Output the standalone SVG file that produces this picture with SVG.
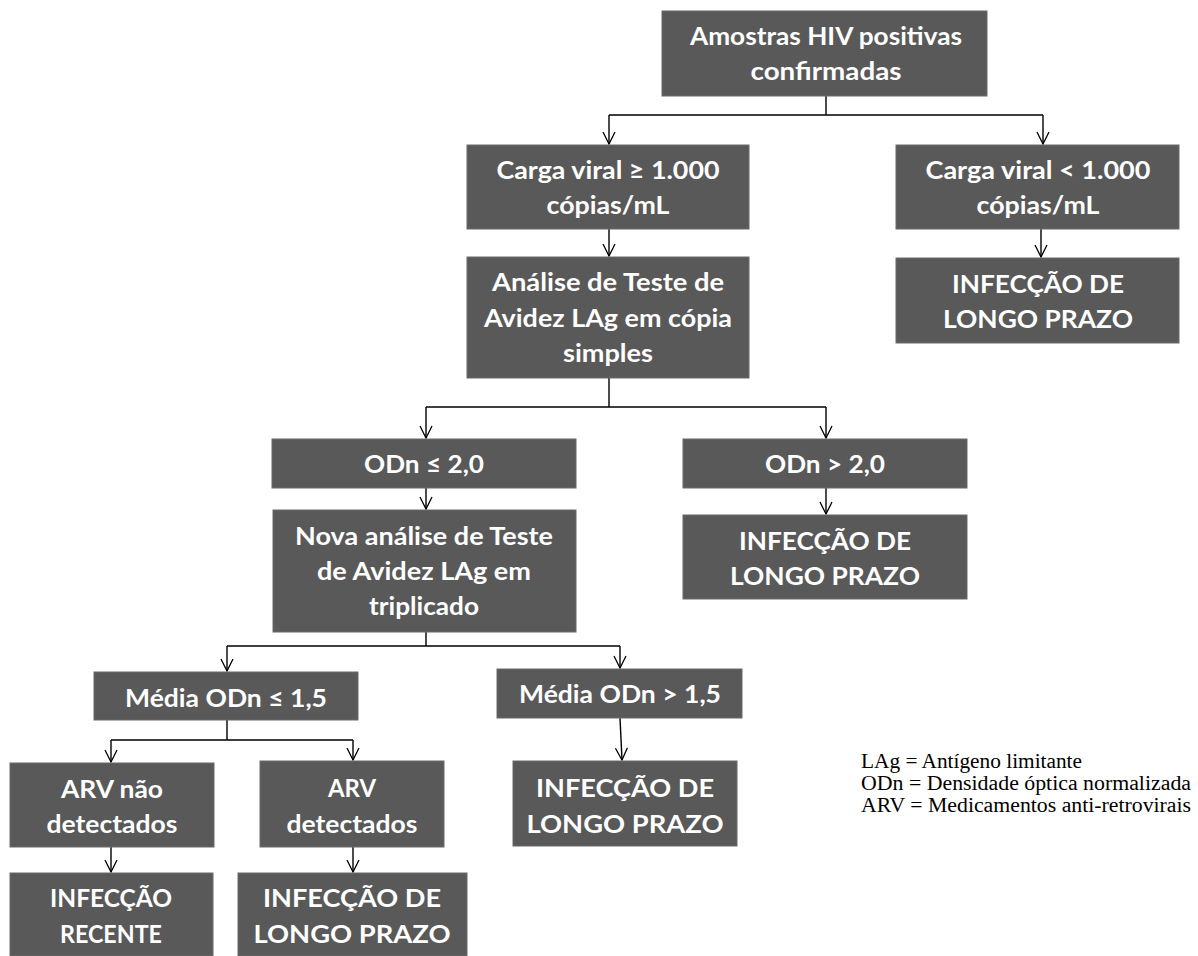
<svg xmlns="http://www.w3.org/2000/svg" width="1198" height="956" viewBox="0 0 1198 956">
<defs>
<style>
.box{fill:#595959;stroke:#6b6b6b;stroke-width:1}
.t{font-family:Lato,"Open Sans","Liberation Sans",sans-serif;font-weight:700;font-size:24px;fill:#ffffff;text-anchor:middle}
.c{fill:none;stroke:#000;stroke-width:1.4}
.lg{font-family:"Liberation Serif","Times New Roman",serif;font-size:20px;fill:#000}
</style>
<marker id="ah" viewBox="-13 -7 14 14" markerWidth="14" markerHeight="14" refX="0" refY="0" orient="auto" markerUnits="userSpaceOnUse">
<path d="M-12,-6 L0,0 L-12,6" fill="none" stroke="#000" stroke-width="1.3"/>
</marker>
</defs>
<rect width="1198" height="956" fill="#fff"/>

<g id="connectors">
<path class="c" d="M826,96 V115 M609,115 H1043"/>
<path class="c" d="M609,115 V144" marker-end="url(#ah)"/>
<path class="c" d="M1043,115 V144" marker-end="url(#ah)"/>
<path class="c" d="M609,229 V256" marker-end="url(#ah)"/>
<path class="c" d="M1041,229 V257" marker-end="url(#ah)"/>
<path class="c" d="M609,378 V407 M426,407 H826"/>
<path class="c" d="M426,407 V438" marker-end="url(#ah)"/>
<path class="c" d="M826,407 V438" marker-end="url(#ah)"/>
<path class="c" d="M426,488 V509" marker-end="url(#ah)"/>
<path class="c" d="M826,488 V514" marker-end="url(#ah)"/>
<path class="c" d="M426,632 V646 M227,646 H620"/>
<path class="c" d="M227,646 V671" marker-end="url(#ah)"/>
<path class="c" d="M620,646 V668" marker-end="url(#ah)"/>
<path class="c" d="M620,718 L622,760" marker-end="url(#ah)"/>
<path class="c" d="M227,720 V740 M111,740 H353"/>
<path class="c" d="M111,740 V762" marker-end="url(#ah)"/>
<path class="c" d="M353,740 V760" marker-end="url(#ah)"/>
<path class="c" d="M111,847 V872" marker-end="url(#ah)"/>
<path class="c" d="M353,847 V872" marker-end="url(#ah)"/>
</g>

<g id="n-amostras">
<rect class="box" x="662" y="11" width="325" height="85"/>
<text class="t" x="826" y="45" textLength="272" lengthAdjust="spacingAndGlyphs">Amostras HIV positivas</text>
<text class="t" x="826" y="80" textLength="151" lengthAdjust="spacingAndGlyphs">confirmadas</text>
</g>

<g id="n-carga-alta">
<rect class="box" x="467" y="145" width="282" height="84"/>
<text class="t" x="608" y="179" textLength="223" lengthAdjust="spacingAndGlyphs">Carga viral ≥ 1.000</text>
<text class="t" x="608" y="214" textLength="123" lengthAdjust="spacingAndGlyphs">cópias/mL</text>
</g>

<g id="n-carga-baixa">
<rect class="box" x="896" y="145" width="283" height="84"/>
<text class="t" x="1038" y="179" textLength="225" lengthAdjust="spacingAndGlyphs">Carga viral &lt; 1.000</text>
<text class="t" x="1038" y="214" textLength="123" lengthAdjust="spacingAndGlyphs">cópias/mL</text>
</g>

<g id="n-analise">
<rect class="box" x="467" y="257" width="282" height="121"/>
<text class="t" x="608" y="291" textLength="232" lengthAdjust="spacingAndGlyphs">Análise de Teste de</text>
<text class="t" x="608" y="327" textLength="248" lengthAdjust="spacingAndGlyphs">Avidez LAg em cópia</text>
<text class="t" x="608" y="362" textLength="90" lengthAdjust="spacingAndGlyphs">simples</text>
</g>

<g id="n-infeccao-1">
<rect class="box" x="896" y="258" width="283" height="85"/>
<text class="t" x="1038" y="293" textLength="172" lengthAdjust="spacingAndGlyphs">INFECÇÃO DE</text>
<text class="t" x="1038" y="328" textLength="190" lengthAdjust="spacingAndGlyphs">LONGO PRAZO</text>
</g>

<g id="n-odn-baixo">
<rect class="box" x="272" y="439" width="304" height="49"/>
<text class="t" x="424" y="473" textLength="120" lengthAdjust="spacingAndGlyphs">ODn ≤ 2,0</text>
</g>

<g id="n-odn-alto">
<rect class="box" x="683" y="439" width="284" height="49"/>
<text class="t" x="825" y="473" textLength="120" lengthAdjust="spacingAndGlyphs">ODn &gt; 2,0</text>
</g>

<g id="n-nova-analise">
<rect class="box" x="273" y="510" width="303" height="122"/>
<text class="t" x="424" y="545" textLength="258" lengthAdjust="spacingAndGlyphs">Nova análise de Teste</text>
<text class="t" x="424" y="580" textLength="214" lengthAdjust="spacingAndGlyphs">de Avidez LAg em</text>
<text class="t" x="424" y="615" textLength="110" lengthAdjust="spacingAndGlyphs">triplicado</text>
</g>

<g id="n-infeccao-2">
<rect class="box" x="683" y="515" width="284" height="84"/>
<text class="t" x="825" y="550" textLength="172" lengthAdjust="spacingAndGlyphs">INFECÇÃO DE</text>
<text class="t" x="825" y="585" textLength="190" lengthAdjust="spacingAndGlyphs">LONGO PRAZO</text>
</g>

<g id="n-media-baixa">
<rect class="box" x="94" y="672" width="264" height="48"/>
<text class="t" x="226" y="707" textLength="202" lengthAdjust="spacingAndGlyphs">Média ODn ≤ 1,5</text>
</g>

<g id="n-media-alta">
<rect class="box" x="497" y="669" width="245" height="49"/>
<text class="t" x="620" y="703" textLength="202" lengthAdjust="spacingAndGlyphs">Média ODn &gt; 1,5</text>
</g>

<g id="n-infeccao-3">
<rect class="box" x="513" y="761" width="224" height="85"/>
<text class="t" x="625" y="797" textLength="178" lengthAdjust="spacingAndGlyphs">INFECÇÃO DE</text>
<text class="t" x="625" y="833" textLength="197" lengthAdjust="spacingAndGlyphs">LONGO PRAZO</text>
</g>

<g id="n-arv-nao">
<rect class="box" x="10" y="763" width="204" height="84"/>
<text class="t" x="112" y="798" textLength="102" lengthAdjust="spacingAndGlyphs">ARV não</text>
<text class="t" x="112" y="833" textLength="131" lengthAdjust="spacingAndGlyphs">detectados</text>
</g>

<g id="n-arv-sim">
<rect class="box" x="260" y="761" width="184" height="86"/>
<text class="t" x="352" y="797" textLength="48" lengthAdjust="spacingAndGlyphs">ARV</text>
<text class="t" x="352" y="833" textLength="131" lengthAdjust="spacingAndGlyphs">detectados</text>
</g>

<g id="n-recente">
<rect class="box" x="10" y="873" width="203" height="83"/>
<text class="t" x="111" y="907" textLength="122" lengthAdjust="spacingAndGlyphs">INFECÇÃO</text>
<text class="t" x="111" y="943" textLength="102" lengthAdjust="spacingAndGlyphs">RECENTE</text>
</g>

<g id="n-infeccao-4">
<rect class="box" x="238" y="873" width="229" height="83"/>
<text class="t" x="352" y="907" textLength="178" lengthAdjust="spacingAndGlyphs">INFECÇÃO DE</text>
<text class="t" x="352" y="943" textLength="197" lengthAdjust="spacingAndGlyphs">LONGO PRAZO</text>
</g>

<g id="legend">
<text class="lg" x="861" y="768" textLength="221" lengthAdjust="spacingAndGlyphs">LAg = Antígeno limitante</text>
<text class="lg" x="861" y="790" textLength="330" lengthAdjust="spacingAndGlyphs">ODn = Densidade óptica normalizada</text>
<text class="lg" x="861" y="812" textLength="330" lengthAdjust="spacingAndGlyphs">ARV = Medicamentos anti-retrovirais</text>
</g>
</svg>
